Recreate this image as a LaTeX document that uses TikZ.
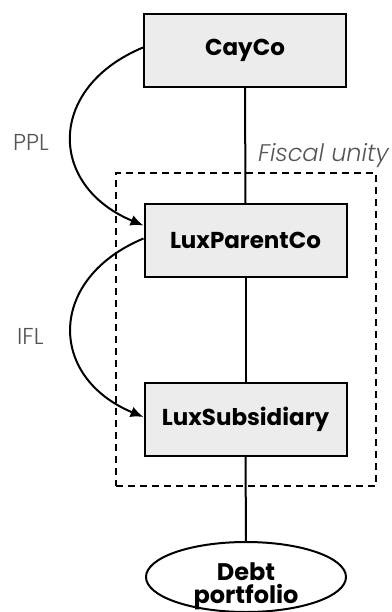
\documentclass[tikz,border=0pt]{standalone}
\usepackage{fontspec}
\setmainfont{Poppins}
\newfontfamily\lightfont{Poppins Light}[ItalicFont={Poppins Light Italic}]
\usetikzlibrary{arrows.meta,shapes.geometric}
\definecolor{boxfill}{HTML}{ECECEC}
\definecolor{labelgray}{HTML}{555555}
\tikzset{
  entity/.style={draw=black, line width=2pt, fill=boxfill, minimum width=202pt, minimum height=73pt, inner sep=0pt, font=\fontsize{23}{27}\selectfont\bfseries},
  link/.style={line width=2pt},
  loan/.style={line width=2pt, -{Latex[length=13pt,width=11pt]}},
  loanlabel/.style={text=labelgray, font=\lightfont\fontsize{23}{27}\selectfont, inner sep=0pt},
  unity/.style={draw=black, line width=2pt, dash pattern=on 7pt off 5pt, minimum width=260pt, minimum height=313pt, inner sep=0pt},
}
\begin{document}
\begin{tikzpicture}[x=1pt,y=-1pt]
\useasboundingbox (0,0) rectangle (391,612);
\clip (0,0) rectangle (391,612);
\node[unity] (fiscal) at (246,329.5) {};
\node[entity] (cay) at (245,50.5) {CayCo};
\node[entity] (parent) at (245.5,240.5) {LuxParentCo};
\node[entity] (sub) at (245.5,419.5) {LuxSubsidiary};
\node[draw=black, line width=2pt, fill=white, ellipse, minimum width=200pt, minimum height=70pt, inner sep=0pt] (debt) at (246,577) {};
\node[align=center, inner sep=0pt, font=\fontsize{24}{23}\selectfont\bfseries] (debtlabel) at (246,586) {Debt\\portfolio};
\draw[link] (cay) -- (parent);
\draw[link] (parent) -- (sub);
\draw[link] (sub) -- (debt);
\draw[loan] ([yshift=3pt]cay.west) .. controls +(-96,40) and +(-96,-40) .. ([yshift=15pt]parent.west);
\draw[loan] ([yshift=2pt]parent.west) .. controls +(-96,40) and +(-96,-40) .. ([yshift=2.5pt]sub.west);
\node[loanlabel, anchor=base west] (ppl) at (13,151) {PPL};
\node[loanlabel, anchor=base west] (ifl) at (17,344) {IFL};
\node[loanlabel, anchor=base west, font=\lightfont\fontsize{24}{28}\selectfont\itshape] (unitylabel) at (258,162) {Fiscal unity};
\end{tikzpicture}
\end{document}
